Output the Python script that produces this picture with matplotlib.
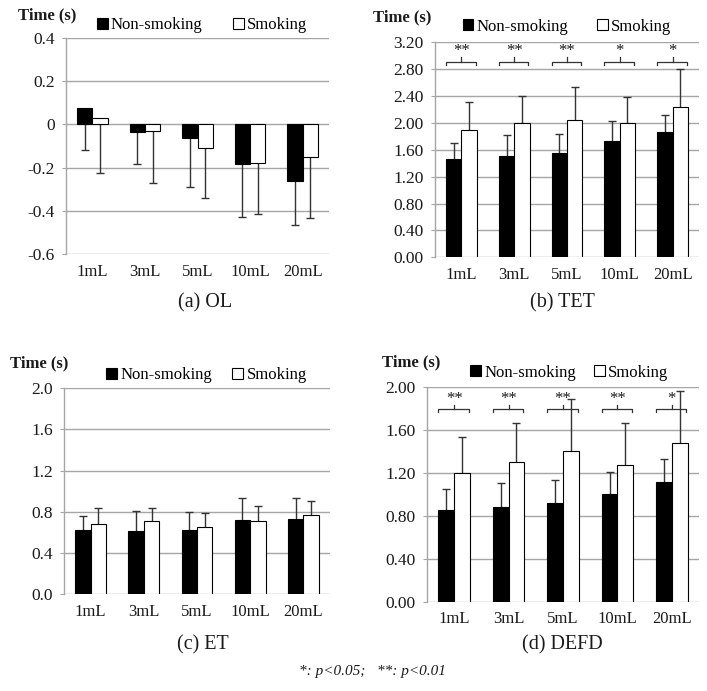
import matplotlib
matplotlib.use("Agg")
import matplotlib.pyplot as plt
import numpy as np
from matplotlib.patches import Patch

plt.rcParams["font.family"] = "Liberation Serif"

categories = ["1mL", "3mL", "5mL", "10mL", "20mL"]
series_names = ["Non-smoking", "Smoking"]

# (a) OL
ol_ns = [0.074, -0.035, -0.062, -0.183, -0.262]
ol_ns_err = [0.194, 0.150, 0.227, 0.248, 0.206]
ol_s = [0.028, -0.030, -0.108, -0.178, -0.149]
ol_s_err = [0.251, 0.240, 0.235, 0.239, 0.286]

# (b) TET
tet_ns = [1.47, 1.51, 1.55, 1.73, 1.86]
tet_ns_err = [0.23, 0.31, 0.28, 0.30, 0.26]
tet_s = [1.89, 2.00, 2.05, 2.00, 2.23]
tet_s_err = [0.42, 0.40, 0.49, 0.38, 0.57]
tet_sig = ["**", "**", "**", "*", "*"]

# (c) ET
et_ns = [0.62, 0.61, 0.62, 0.72, 0.73]
et_ns_err = [0.14, 0.20, 0.18, 0.21, 0.20]
et_s = [0.68, 0.71, 0.65, 0.71, 0.77]
et_s_err = [0.16, 0.13, 0.14, 0.15, 0.13]

# (d) DEFD
defd_ns = [0.85, 0.88, 0.92, 1.00, 1.11]
defd_ns_err = [0.20, 0.22, 0.21, 0.21, 0.22]
defd_s = [1.20, 1.30, 1.40, 1.27, 1.48]
defd_s_err = [0.33, 0.36, 0.49, 0.39, 0.48]
defd_sig = ["**", "**", "**", "**", "*"]

GRID = "#a6a6a6"
TXT = "#1a1a1a"
W = 0.29


def panel(fig, rect, ns, ns_err, s, s_err, yticks, ylabels, caption, cap_xy,
          leg_xy, colsp, down=False, sig=None, br_y=None, time_xy=None):
    ax = fig.add_axes(rect)
    x = np.arange(len(categories))
    lo, hi = yticks[0], yticks[-1]
    ax.set_xlim(-0.5, len(categories) - 0.5)
    ax.set_ylim(lo, hi)
    for t in yticks:
        ax.axhline(t, color=GRID, lw=1.0, zorder=1)

    ax.bar(x - W / 2, ns, W, color="black", edgecolor="black", lw=0.8, zorder=3)
    ax.bar(x + W / 2, s, W, color="white", edgecolor="black", lw=0.8, zorder=3)
    # one-sided error bars: down for OL, up for the rest
    for xs, v, e in [(x - W / 2, ns, ns_err), (x + W / 2, s, s_err)]:
        e = np.asarray(e)
        z = np.zeros_like(e)
        yerr = [e, z] if down else [z, e]
        _, caps, _ = ax.errorbar(xs, v, yerr=yerr, fmt="none", ecolor="#333333",
                                 elinewidth=1.0, capsize=3.2, capthick=1.0,
                                 zorder=2)
        caps[1 if down else 0].set_visible(False)

    if sig is not None:
        rng = hi - lo
        for i, st in enumerate(sig):
            x0, x1 = i - W, i + W - 0.02
            ax.plot([x0, x0, x1, x1], [br_y - 0.014 * rng, br_y, br_y,
                                       br_y - 0.014 * rng],
                    color="#333333", lw=0.9, zorder=4)
            ax.plot([i, i], [br_y, br_y + 0.022 * rng], color="#333333",
                    lw=0.9, zorder=4)
            ax.text(i, br_y + 0.05 * rng, st, ha="center", va="center",
                    fontsize=12, color=TXT)

    ax.set_yticks(yticks)
    ax.set_yticklabels(ylabels, fontsize=12.5, color=TXT)
    ax.set_xticks(x)
    ax.set_xticklabels(categories, fontsize=12, color=TXT)
    ax.tick_params(axis="x", length=0, pad=7)
    ax.tick_params(axis="y", length=3, color=GRID, pad=5)
    for side in ["top", "right", "bottom"]:
        ax.spines[side].set_visible(False)
    ax.spines["left"].set_color(GRID)
    ax.spines["left"].set_linewidth(1.0)

    handles = [Patch(facecolor="black", edgecolor="black", lw=0.8),
               Patch(facecolor="white", edgecolor="black", lw=0.8)]
    ax.legend(handles, series_names, loc="center", bbox_to_anchor=leg_xy,
              ncol=2, frameon=False, fontsize=12, handlelength=0.65,
              handleheight=0.65, handletextpad=0.2, columnspacing=colsp,
              borderpad=0, borderaxespad=0)

    fig.text(time_xy[0] / 707, 1 - time_xy[1] / 691, "Time (s)",
             fontsize=12, fontweight="bold", ha="left", va="center",
             color=TXT)
    fig.text(cap_xy[0] / 707, 1 - cap_xy[1] / 691, caption, fontsize=14.5,
             ha="center", va="center", color=TXT)
    return ax


def rect(x0, x1, ytop, ybot):
    return [x0 / 707, 1 - ybot / 691, (x1 - x0) / 707, (ybot - ytop) / 691]


fig = plt.figure(figsize=(7.07, 6.91), dpi=100)

panel(fig, rect(66, 329, 38, 254), ol_ns, ol_ns_err, ol_s, ol_s_err,
      [-0.6, -0.4, -0.2, 0, 0.2, 0.4],
      ["-0.6", "-0.4", "-0.2", "0", "0.2", "0.4"],
      "(a) OL", (205, 303), (0.517, 1.06), 1.8, down=True, time_xy=(18, 15))

tet_ticks = [round(0.4 * k, 2) for k in range(9)]
panel(fig, rect(435, 699, 42.3, 257.3), tet_ns, tet_ns_err, tet_s, tet_s_err,
      tet_ticks, [f"{t:.2f}" for t in tet_ticks],
      "(b) TET", (562, 303), (0.50, 1.073), 1.7, sig=tet_sig, br_y=2.91,
      time_xy=(373, 17))

et_ticks = [round(0.4 * k, 1) for k in range(6)]
panel(fig, rect(64, 330, 388.3, 594), et_ns, et_ns_err, et_s, et_s_err,
      et_ticks, [f"{t:.1f}" for t in et_ticks],
      "(c) ET", (203, 645), (0.536, 1.065), 1.2, time_xy=(10, 363))

defd_ticks = [round(0.4 * k, 2) for k in range(6)]
panel(fig, rect(427, 699, 386.7, 601.7), defd_ns, defd_ns_err, defd_s,
      defd_s_err, defd_ticks, [f"{t:.2f}" for t in defd_ticks],
      "(d) DEFD", (562, 645), (0.523, 1.065), 1.1, sig=defd_sig, br_y=1.79,
      time_xy=(382, 362))

fig.text(372 / 707, 1 - 672 / 691, "*: p<0.05;   **: p<0.01", fontsize=11,
         style="italic", ha="center", va="center", color=TXT)

fig.savefig("out.png", dpi=100)
